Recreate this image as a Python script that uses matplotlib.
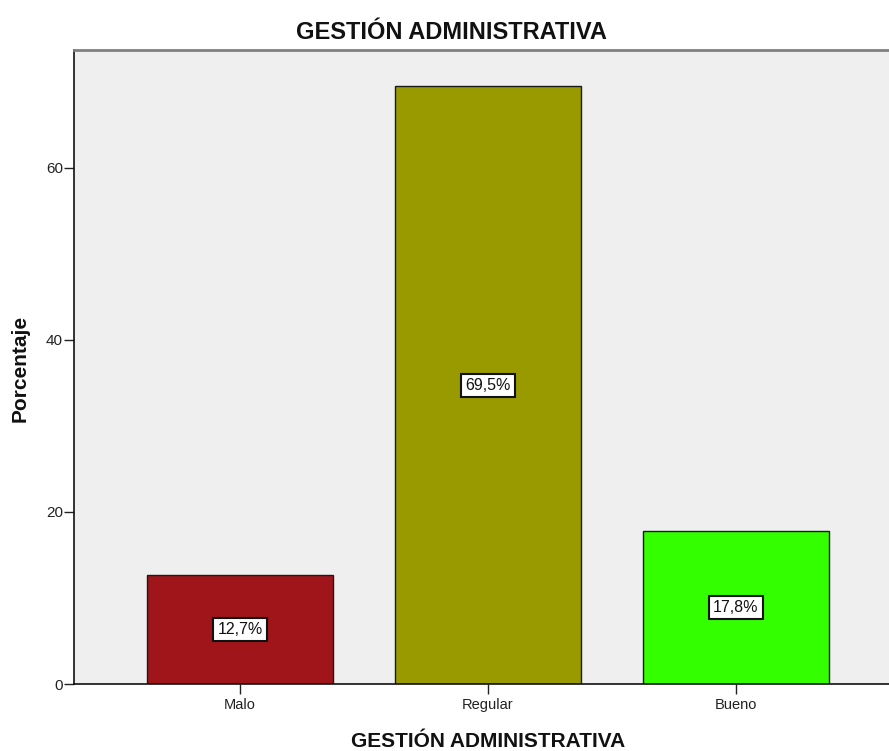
import matplotlib
matplotlib.use("Agg")
import matplotlib.pyplot as plt

categories = ["Malo", "Regular", "Bueno"]
percentages = [12.7, 69.5, 17.8]
value_labels = ["12,7%", "69,5%", "17,8%"]
bar_colors = ["#A0151A", "#999900", "#33FF00"]
y_ticks = [0, 20, 40, 60]

plt.rcParams["font.family"] = ["Liberation Sans", "DejaVu Sans"]

W, H = 889, 751
fig = plt.figure(figsize=(W / 100, H / 100), dpi=100)
left, right, top, bottom = 74, 902, 50, 684
ax = fig.add_axes([left / W, 1 - bottom / H, (right - left) / W, (bottom - top) / H])
ax.set_facecolor("#EFEFEF")

x = list(range(len(categories)))
ax.bar(x, percentages, width=0.75, color=bar_colors, edgecolor="#1a1a1a", linewidth=1.0, zorder=2)

for xi, v, lab in zip(x, percentages, value_labels):
    ax.text(xi, v / 2, lab, ha="center", va="center", fontsize=11.5, color="#111111", zorder=3,
            bbox=dict(boxstyle="square,pad=0.25", facecolor="white", edgecolor="#111111", linewidth=1.5))

ax.set_xlim(-0.67, 2.67)
ax.set_ylim(0, 73.7)
ax.set_xticks(x)
ax.set_xticklabels(categories, fontsize=10.5)
ax.set_yticks(y_ticks)
ax.set_yticklabels([str(t) for t in y_ticks], fontsize=11)
ax.tick_params(axis="x", length=7, width=1, pad=3, colors="#222222")
ax.tick_params(axis="y", length=7.5, width=1, pad=0.5, colors="#222222")

for side in ("left", "bottom"):
    ax.spines[side].set_color("#111111")
    ax.spines[side].set_linewidth(1.2)
ax.spines["top"].set_color("#808080")
ax.spines["top"].set_linewidth(2)
ax.spines["right"].set_visible(False)

fig.text(451 / W, 1 - 39 / H, "GESTIÓN ADMINISTRATIVA", ha="center", va="baseline",
         fontsize=17, fontweight="bold", color="#111111")
fig.text(488 / W, 1 - 747 / H, "GESTIÓN ADMINISTRATIVA", ha="center", va="baseline",
         fontsize=15, fontweight="bold", color="#111111")
fig.text(20 / W, 1 - 368 / H, "Porcentaje", ha="center", va="center", rotation=90,
         fontsize=15, fontweight="bold", color="#111111")

fig.savefig("out.png", dpi=100)
